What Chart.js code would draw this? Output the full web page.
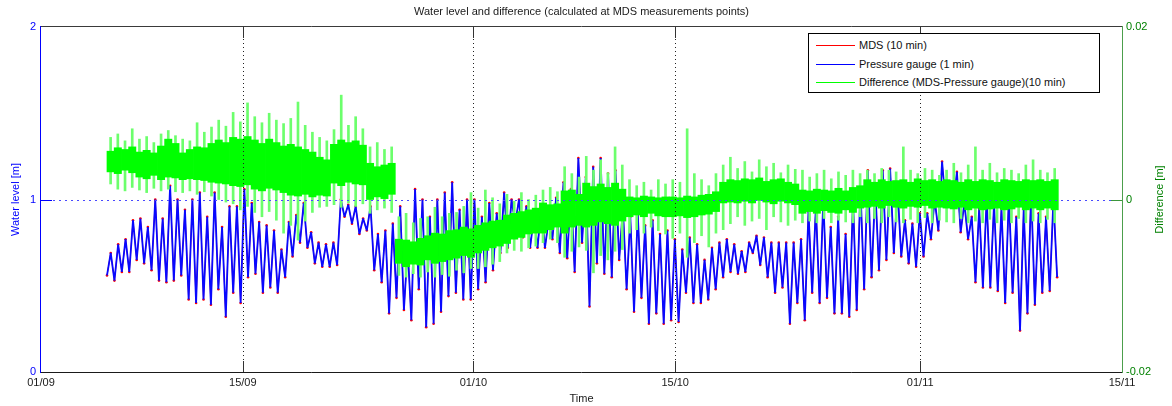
<!DOCTYPE html>
<html><head><meta charset="utf-8">
<script src="https://cdn.jsdelivr.net/npm/chart.js@4.4.1/dist/chart.umd.min.js"></script>
<style>
html,body{margin:0;padding:0;background:#fff;}
#wrap{position:relative;width:1172px;height:406px;overflow:hidden;}
#c{position:absolute;left:0;top:0;}
#legend{position:absolute;left:808px;top:33px;width:292px;height:60px;border:1px solid #000;background:#fff;box-sizing:border-box;font:11px "Liberation Sans",Arial,Helvetica,sans-serif;color:#111;}
#legend .it{position:absolute;left:0;height:14px;width:280px;}
#legend .ln{position:absolute;left:7px;width:39px;top:6px;height:1px;}
#legend .tx{position:absolute;left:50px;top:0;line-height:13px;white-space:nowrap;}
</style></head>
<body>
<div id="wrap">
<canvas id="c" width="1172" height="406"></canvas>
<div id="legend">
 <div class="it" style="top:5px"><span class="ln" style="background:#ff0000"></span><span class="tx">MDS (10 min)</span></div>
 <div class="it" style="top:24px"><span class="ln" style="background:#0000ff"></span><span class="tx">Pressure gauge (1 min)</span></div>
 <div class="it" style="top:42px"><span class="ln" style="background:#00ff00"></span><span class="tx">Difference (MDS-Pressure gauge)(10 min)</span></div>
</div>
</div>
<script>
// ---- axis ticks (days since 01/09) ----
const tickDays = [0, 14, 30, 44, 61, 75];
const tickLabels = ['01/09', '15/09', '01/10', '15/10', '01/11', '15/11'];
const levelTicks = [0, 1, 2];
const diffTickValues = [-20, 0, 20];          // mm
const diffTickLabels = ['-0.02', '0', '0.02'];  // m

// ---- water level (m): successive high / low waters, first at day 4.58, every 0.2575 day ----
const levelStart = 4.58;
const levelStep = 0.2575;
const pressureGauge = [
 0.56,0.69,0.53,0.74,0.58,0.77,0.58,0.88,0.65,0.89,
 0.63,0.84,0.59,1.0,0.53,0.89,0.52,1.08,0.53,1.0,
 0.56,0.94,0.42,1.0,0.40,1.04,0.42,0.9,0.39,1.04,
 0.48,0.84,0.32,0.96,0.46,0.96,0.40,1.06,0.55,0.98,
 0.57,0.87,0.46,0.85,0.49,0.82,0.46,0.71,0.55,
 0.87,0.67,0.91,0.75,0.98,0.72,0.81,0.63,0.75,0.61,
 0.74,0.61,0.75,0.62,1.0,0.9,0.97,0.86,0.96,0.8,
 0.89,0.82,0.96,0.59,0.8,0.52,0.82,0.34,0.86,0.43,
 0.96,0.36,0.72,0.30,1.06,0.48,1.0,0.26,0.9,0.28,
 1.0,0.35,1.04,0.44,1.1,0.46,0.94,0.42,1.0,
 0.42,1.0,0.48,0.9,0.52,0.98,0.59,0.92,0.69,1.04,
 0.72,1.0,0.86,1.0,0.78,0.96,0.72,0.9,0.72,0.96,
 0.72,0.88,0.77,1.01,0.69,1.1,0.66,1.06,0.58,1.24,
 0.75,1.13,0.38,1.19,0.63,1.24,0.57,1.15,0.55,1.17,
 0.65,0.95,0.48,0.9,0.35,0.92,0.43,0.85,0.28,0.88,
 0.34,0.8,0.28,0.82,
 0.3,0.77,0.29,0.71,0.46,0.78,0.4,0.74,0.4,0.65,
 0.42,0.72,0.48,0.75,0.55,0.77,0.58,0.74,0.57,0.7,
 0.58,0.75,0.69,0.79,0.62,0.78,0.55,0.75,0.46,0.75,
 0.49,0.75,0.28,0.75,0.4,0.77,0.3,0.93,0.46,0.96,
 0.4,1.0,0.43,0.84,0.34,0.9,0.34,0.8,0.32,1.0,
 0.36,
 1.07,0.48,1.17,0.55,1.07,0.59,1.17,0.65,1.18,0.69,
 1.06,0.67,0.88,0.63,0.86,0.61,0.92,0.67,0.92,0.77,
 1.0,0.82,1.22,0.96,1.06,0.96,1.16,0.81,0.98,0.77,
 0.9,0.52,0.95,0.49,1.0,0.49,0.98,0.47,0.95,0.4,
 1.02,0.46,0.9,0.24,0.95,0.34,1.05,0.39,0.92,0.46,
 0.9,0.47,1.0,0.55
];
// MDS samples coincide with the gauge curve at these points
const mdsLevel = pressureGauge;

// ---- difference (mm), per half-day bin, first bin centred at day 4.83 ----
const diffStart = 4.83;
const diffStep = 0.5;
const diffOuterLo = [
 1.8,1.2,1.0,1.4,1.1,0.8,1.3,1.0,1.2,0.9,
 0.8,1.0,0.6,0.9,0.4,0.0,-0.3,-0.5,-1.2,-0.8,
 -1.5,-2.0,-1.4,-2.4,-3.9,-3.0,-4.7,-2.5,-1.5,-0.9,
 -0.8,-0.6,-0.9,-0.4,-0.8,-0.5,-1.6,-1.2,-1.0,-1.5,
 -8.8,-9.0,-8.6,-9.0,-8.4,-9.0,-8.7,-8.9,-8.2,-8.5,
 -8.0,-8.0,-7.8,-7.5,-7.2,-6.2,-5.9,-6.0,-5.6,-5.4,
 -5.0,-4.6,-5.0,-6.7,-6.0,-5.5,-5.9,-8.5,-6.5,-7.0,
 -6.0,-5.8,-3.9,-3.5,-3.9,-3.2,-3.6,-4.0,-4.5,-3.9,
 -6.7,-5.0,-4.2,-5.5,-3.9,-3.5,-2.8,-2.0,-3.0,-2.5,
 -2.2,-3.5,-2.0,-2.6,-3.0,-2.4,-2.7,-2.5,-2.7,-2.2,
 -2.7,-2.4,-2.6,-2.7,-2.0,-2.7,-2.2,-2.7,-2.0,-2.6,
 -2.7,-2.3,-2.7,-2.1,-2.7,-2.4,-2.6,-2.7,-2.2,-2.7,
 -2.5,-2.7,-2.3,-2.7,-2.4,-2.7,-2.2,-2.7,-2.5,-2.7,
 -2.3,-2.7
];
const diffCoreLo = [
 3.2,3.0,3.4,3.1,2.6,2.4,2.8,2.3,2.6,2.5,
 2.3,2.4,2.3,2.2,2.0,1.9,1.8,1.6,1.5,1.7,
 1.2,1.0,1.3,1.1,0.8,0.5,0.4,0.6,0.3,0.5,
 0.4,1.9,1.6,2.0,1.8,1.7,0.0,0.3,0.1,0.6,
 -7.4,-7.8,-7.5,-7.6,-7.0,-7.4,-7.2,-7.0,-6.8,-6.5,
 -6.7,-6.2,-5.9,-5.6,-5.4,-5.1,-4.6,-4.4,-4.0,-3.9,
 -3.9,-3.5,-3.2,-3.9,-3.2,-3.0,-3.2,-3.0,-2.6,-2.8,
 -3.0,-2.5,-2.0,-1.8,-2.0,-1.6,-1.9,-2.0,-2.0,-1.9,
 -2.1,-2.0,-1.8,-1.7,-1.4,-0.4,-0.3,-0.4,-0.2,-0.4,
 -0.1,-0.3,-0.5,-0.2,-0.4,-0.6,-1.6,-1.4,-1.6,-1.3,
 -1.5,-1.6,-1.2,-1.5,-1.0,-0.9,-0.8,-1.0,-0.7,-0.9,
 -1.0,-0.8,-0.9,-0.7,-1.0,-0.9,-1.0,-1.1,-0.9,-1.2,
 -1.0,-1.2,-1.1,-1.0,-1.2,-1.1,-0.9,-1.2,-1.0,-1.2,
 -1.0,-1.2
];
const diffCoreHi = [
 5.6,6.0,5.8,6.1,5.5,5.7,5.4,6.2,7.0,6.5,
 5.4,5.8,6.1,6.0,6.5,6.9,6.6,7.2,7.0,7.3,
 6.9,6.5,7.0,6.6,6.2,6.4,6.1,5.8,5.5,4.9,
 4.6,6.4,6.9,6.6,6.8,6.3,4.2,3.8,4.0,4.2,
 -4.6,-4.7,-4.9,-4.5,-4.2,-3.9,-4.0,-3.6,-3.5,-3.2,
 -3.4,-3.0,-2.7,-2.5,-2.4,-1.8,-1.6,-1.4,-1.2,-1.0,
 -0.4,-0.6,-0.5,1.0,1.1,0.6,1.9,1.5,1.8,1.4,
 1.9,1.2,0.3,0.2,0.4,0.3,0.2,0.3,0.3,0.2,
 0.4,0.3,0.5,0.6,0.9,2.0,2.3,2.2,2.4,2.3,
 2.5,2.1,2.3,2.4,2.0,1.8,1.1,1.0,1.2,1.1,
 1.0,1.3,1.0,1.4,1.6,2.3,2.0,2.3,2.1,2.2,
 2.3,2.0,2.4,2.2,2.3,2.1,2.3,2.2,2.0,2.3,
 2.1,2.3,2.2,2.0,2.3,2.2,2.1,2.3,2.2,2.3,
 2.1,2.3
];
const diffOuterHi = [
 7.2,7.6,6.8,8.2,7.0,7.3,6.6,7.6,8.0,7.4,
 7.0,6.8,8.9,7.8,8.4,9.2,8.5,10.1,9.0,11.2,
 9.6,8.9,10.0,9.2,8.8,9.4,11.3,8.6,7.8,7.2,
 6.8,8.1,12.1,8.6,9.6,8.2,6.1,6.6,5.8,6.1,
 -2.0,-1.6,-2.7,-2.2,-2.0,-0.9,-2.0,-1.6,-1.5,-0.8,
 0.8,-1.0,1.1,0.2,-0.5,0.6,-0.2,0.8,0.0,0.5,
 1.1,1.4,0.9,3.8,3.0,2.6,5.0,3.4,4.6,3.1,
 6.1,4.0,2.3,1.6,2.0,1.1,2.3,1.8,2.3,2.0,
 8.2,3.0,2.3,1.6,3.0,4.0,4.9,3.6,4.4,3.2,
 4.6,3.8,4.2,3.1,4.0,3.5,3.4,2.6,3.0,3.4,
 2.4,3.2,2.8,3.4,3.0,3.4,3.0,3.6,3.4,3.2,
 6.1,3.4,3.0,3.6,3.4,2.8,3.4,4.2,3.1,4.0,
 6.1,3.4,4.2,3.1,3.6,3.4,3.0,4.0,4.6,3.4,
 3.1,3.6
];

const FONT = '"Liberation Sans", Arial, Helvetica, sans-serif';
const titleText = 'Water level and difference (calculated at MDS measurements points)';

const levelPts = arr => arr.map((v, i) => ({x: levelStart + levelStep * i, y: v}));
const diffPts = (lo, hi) => hi.map((h, i) => ({x: diffStart + diffStep * i, y: [lo[i], h]}));

const framePlugin = {
  id: 'frame',
  afterDatasetsDraw(chart) {
    const {ctx, chartArea: a, scales} = chart;
    const sx = scales.x, sy = scales.y, sy2 = scales.y2;
    const L = Math.round(a.left), R = Math.round(a.right), T = Math.round(a.top), B = Math.round(a.bottom);
    const seg = (x1, y1, x2, y2) => { ctx.beginPath(); ctx.moveTo(x1, y1); ctx.lineTo(x2, y2); ctx.stroke(); };
    ctx.save();
    ctx.lineWidth = 1;
    ctx.strokeStyle = '#222';
    ctx.setLineDash([1, 3]);
    tickDays.slice(1, -1).forEach(d => {
      const px = Math.round(sx.getPixelForValue(d)) + 0.5;
      seg(px, T, px, B);
    });
    ctx.strokeStyle = '#4a4aff';
    ctx.setLineDash([2, 4]);
    const py = Math.round(sy.getPixelForValue(1)) + 0.5;
    seg(L, py, R, py);
    ctx.setLineDash([]);
    ctx.strokeStyle = '#333';
    tickDays.slice(1, -1).forEach(d => {
      const px = Math.round(sx.getPixelForValue(d)) + 0.5;
      seg(px, B, px, B - 11);
      seg(px, T, px, T + 11);
    });
    ctx.strokeStyle = '#0000ff';
    seg(L, py, L + 11, py);
    ctx.strokeStyle = '#3c963c';
    const py2 = Math.round(sy2.getPixelForValue(0)) + 0.5;
    seg(R - 11, py2, R, py2);
    ctx.strokeStyle = '#3a3a3a';
    seg(L, T - 0.5, R, T - 0.5);
    ctx.strokeStyle = '#1a1a1a';
    seg(L, B + 0.5, R, B + 0.5);
    ctx.strokeStyle = '#0000ff';
    seg(L - 0.5, T - 1, L - 0.5, B + 1);
    ctx.strokeStyle = '#4c9f4c';
    seg(R + 0.5, T - 1, R + 0.5, B + 1);
    ctx.font = '11px ' + FONT;
    ctx.textBaseline = 'middle';
    ctx.textAlign = 'center';
    ctx.fillStyle = '#1a1a1a';
    const cx = (a.left + a.right) / 2;
    ctx.fillText(titleText, cx, 12);
    ctx.fillText('Time', cx, 399);
    const cy = (a.top + a.bottom) / 2;
    ctx.save();
    ctx.translate(16, cy); ctx.rotate(-Math.PI / 2);
    ctx.fillStyle = '#0000ff';
    ctx.fillText('Water level [m]', 0, 0);
    ctx.restore();
    ctx.save();
    ctx.translate(1160, cy); ctx.rotate(-Math.PI / 2);
    ctx.fillStyle = '#008000';
    ctx.fillText('Difference [m]', 0, 0);
    ctx.restore();
    ctx.restore();
  }
};

new Chart(document.getElementById('c'), {
  type: 'line',
  data: {
    datasets: [
      {type: 'bar', label: 'Difference (MDS-Pressure gauge)(10 min)', data: diffPts(diffCoreLo, diffCoreHi),
       backgroundColor: '#00ff00', borderWidth: 0, barThickness: 7.3, grouped: false, yAxisID: 'y2', order: 0},
      {type: 'bar', label: 'Difference range', data: diffPts(diffOuterLo, diffOuterHi),
       backgroundColor: '#6cff6c', borderWidth: 0, barThickness: 2, grouped: false, yAxisID: 'y2', order: 1},
      {type: 'line', label: 'Pressure gauge (1 min)', data: levelPts(pressureGauge),
       borderColor: '#0808ff', borderWidth: 1.8, pointRadius: 0, tension: 0, borderJoinStyle: 'bevel', yAxisID: 'y', order: 2},
      {type: 'line', label: 'MDS (10 min)', data: levelPts(mdsLevel),
       borderColor: '#ff0000', borderWidth: 1, pointRadius: 1.3, pointBackgroundColor: '#ff0000', pointBorderWidth: 0,
       tension: 0, yAxisID: 'y', order: 3}
    ]
  },
  options: {
    responsive: false,
    animation: false,
    events: [],
    layout: {padding: {top: 27, left: 0, right: 0, bottom: 0}},
    plugins: {legend: {display: false}, tooltip: {enabled: false}, title: {display: false}},
    scales: {
      x: {
        type: 'linear', position: 'bottom', min: 0, max: 75, offset: false,
        grid: {display: false, drawTicks: false}, border: {display: false},
        afterBuildTicks(s) { s.ticks = tickDays.map(v => ({value: v})); },
        ticks: {autoSkip: false, maxRotation: 0, padding: 4, color: '#1a1a1a', font: {family: FONT, size: 11},
                callback: v => tickLabels[tickDays.indexOf(v)]},
        afterFit(s) { s.height = 34; }
      },
      y: {
        position: 'left', min: 0, max: 2,
        grid: {display: false, drawTicks: false}, border: {display: false},
        afterBuildTicks(s) { s.ticks = levelTicks.map(v => ({value: v})); },
        ticks: {padding: 5, color: '#0000ff', font: {family: FONT, size: 11}, callback: v => String(v)},
        afterFit(s) { s.width = 41; }
      },
      y2: {
        position: 'right', min: -20, max: 20,
        grid: {display: false, drawTicks: false}, border: {display: false},
        afterBuildTicks(s) { s.ticks = diffTickValues.map(v => ({value: v})); },
        ticks: {padding: 4, color: '#008000', font: {family: FONT, size: 11},
                callback: v => diffTickLabels[diffTickValues.indexOf(v)]},
        afterFit(s) { s.width = 50; }
      }
    }
  },
  plugins: [framePlugin]
});
</script>
</body></html>
